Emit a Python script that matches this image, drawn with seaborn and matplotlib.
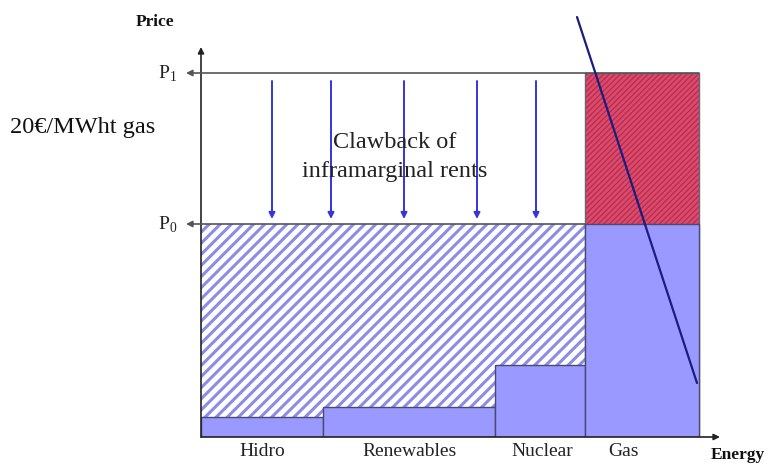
import matplotlib
matplotlib.use("Agg")
import matplotlib.pyplot as plt
import numpy as np
import seaborn as sns

# merit order: energy blocks and their marginal costs
sources = ["Hidro", "Renewables", "Nuclear", "Gas"]
label_x = [6.1, 20.9, 34.1, 42.2]
capacity = [12.2, 17.2, 9.0, 11.4]
cost = [2.0, 3.0, 7.2, 21.3]
p0 = 21.3
p1 = 36.4
# demand curve end points (energy, price)
demand_x = [37.6, 49.6]
demand_y = [42.0, 5.4]
# clawback arrows
arrow_x = [7.1, 13.0, 20.3, 27.6, 33.5]

sns.set_theme(style="white")
plt.rcParams["font.family"] = ["Liberation Serif", "DejaVu Serif"]
plt.rcParams["mathtext.fontset"] = "custom"
plt.rcParams["mathtext.rm"] = "Liberation Serif"
plt.rcParams["hatch.linewidth"] = 1.6

edges = [0.0] + list(np.cumsum(capacity))
mids = [(a + b) / 2 for a, b in zip(edges[:-1], edges[1:])]
xmax, ymax = 51.9, 39.0

fig = plt.figure(figsize=(7.68, 4.64), dpi=100)
ax = fig.add_axes([201 / 768, 1 - 438 / 464, 519 / 768, 390 / 464])

# hatched inframarginal rent area
b1 = ax.bar(edges[0], p0, width=edges[3] - edges[0], align="edge",
            color="white", edgecolor="#8c8ce6", hatch="///", linewidth=0, zorder=1)

# red hatched windfall of gas
b2 = ax.bar(edges[3], p1, width=capacity[3], align="edge",
            color="#e04a68", edgecolor="#b03058", hatch="//////", linewidth=0, zorder=1)
for p, w in [(b1.patches[0], 2.2), (b2.patches[0], 1.0)]:
    if hasattr(p, "set_hatch_linewidth"):
        p.set_hatch_linewidth(w)
ax.bar(edges[3], p1, width=capacity[3], align="edge",
       fill=False, edgecolor="#666677", linewidth=1, zorder=2)

# cost blocks
sns.histplot(x=mids, weights=cost, bins=edges, stat="count", ax=ax,
             color="#9999ff", edgecolor="#4a4a70", linewidth=1, alpha=1, zorder=3)

# demand curve
ax.plot(demand_x, demand_y, color="#1c1c80", lw=1.6, clip_on=False, zorder=6)

# axes with arrows
ak = dict(arrowstyle="-|>", color="#222222", lw=1.2, mutation_scale=9,
          shrinkA=0, shrinkB=0)
ax.annotate("", xy=(0, ymax), xytext=(0, 0), arrowprops=ak, annotation_clip=False)
ax.annotate("", xy=(xmax, 0), xytext=(0, 0), arrowprops=ak, annotation_clip=False)
pk = dict(arrowstyle="-|>", color="#555555", lw=1.2, mutation_scale=9,
          shrinkA=0, shrinkB=0)
ax.annotate("", xy=(-1.5, p1), xytext=(edges[4], p1), arrowprops=pk,
            annotation_clip=False, zorder=5)
ax.annotate("", xy=(-1.5, p0), xytext=(edges[3], p0), arrowprops=pk,
            annotation_clip=False, zorder=5)

# clawback arrows
bk = dict(arrowstyle="-|>", color="#3535d8", lw=1.4, mutation_scale=9,
          shrinkA=0, shrinkB=0)
for x in arrow_x:
    ax.annotate("", xy=(x, p0 + 0.5), xytext=(x, p1 - 0.8), arrowprops=bk, zorder=4)

ax.text(19.4, 28.1, "Clawback of\ninframarginal rents", ha="center", va="center",
        fontsize=17.5, color="#222222", linespacing=1.55, zorder=7)
ax.text(-19.1, 31.0, "20€/MWht gas", ha="left", va="center", fontsize=17.5,
        color="#111111", clip_on=False)
ax.text(-2.4, p1, "P$_1$", ha="right", va="center", fontsize=14, color="#222222")
ax.text(-2.4, p0, "P$_0$", ha="right", va="center", fontsize=14, color="#222222")
ax.text(-4.6, 41.6, "Price", ha="center", va="center", fontsize=12.5,
        fontweight="bold", color="#111111", clip_on=False)
ax.text(51.0, -1.7, "Energy", ha="left", va="center", fontsize=12.5,
        fontweight="bold", color="#111111", clip_on=False)
for m, s in zip(label_x, sources):
    ax.text(m, -1.4, s, ha="center", va="center", fontsize=14, color="#222222")

ax.set_xlim(0, xmax)
ax.set_ylim(0, ymax)
ax.set_xlabel("")
ax.set_ylabel("")
ax.set_xticks([])
ax.set_yticks([])
for sp in ax.spines.values():
    sp.set_visible(False)
ax.patch.set_alpha(0)

fig.savefig("out.png", dpi=100)
